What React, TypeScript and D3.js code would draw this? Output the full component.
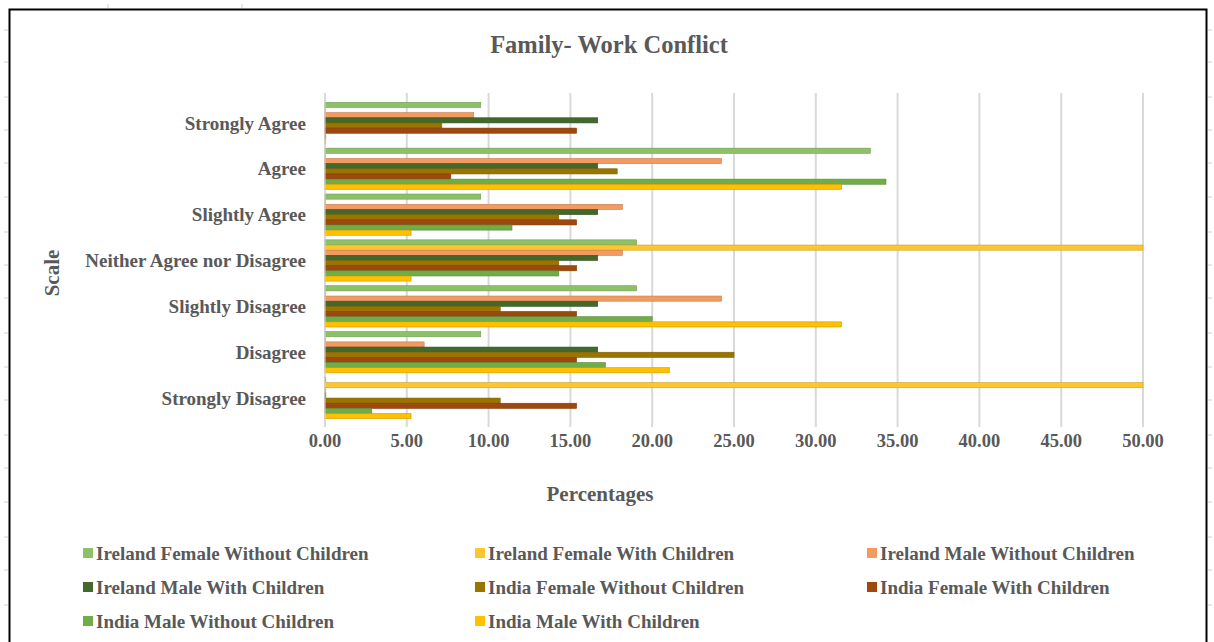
import React from "react";
import * as d3 from "d3";

// Response scale, top to bottom
const categories = [
  "Strongly Agree",
  "Agree",
  "Slightly Agree",
  "Neither Agree nor Disagree",
  "Slightly Disagree",
  "Disagree",
  "Strongly Disagree",
];

const seriesNames = [
  "Ireland Female Without Children",
  "Ireland Female With Children",
  "Ireland Male Without Children",
  "Ireland Male With Children",
  "India Female Without Children",
  "India Female With Children",
  "India Male Without Children",
  "India Male With Children",
];

const seriesColors = [
  "#8cc168",
  "#fdc62f",
  "#f29a60",
  "#43682b",
  "#9b7400",
  "#9e480e",
  "#70ad47",
  "#ffc000",
];

// Percentages per series, in category order
const irelandFemaleWithout = [9.52, 33.33, 9.52, 19.05, 19.05, 9.52, 0];
const irelandFemaleWith = [0, 0, 0, 50.0, 0, 0, 50.0];
const irelandMaleWithout = [9.09, 24.24, 18.18, 18.18, 24.24, 6.06, 0];
const irelandMaleWith = [16.67, 16.67, 16.67, 16.67, 16.67, 16.67, 0];
const indiaFemaleWithout = [7.14, 17.86, 14.29, 14.29, 10.71, 25.0, 10.71];
const indiaFemaleWith = [15.38, 7.69, 15.38, 15.38, 15.38, 15.38, 15.38];
const indiaMaleWithout = [0, 34.29, 11.43, 14.29, 20.0, 17.14, 2.86];
const indiaMaleWith = [0, 31.58, 5.26, 5.26, 31.58, 21.05, 5.26];

const seriesValues = [
  irelandFemaleWithout,
  irelandFemaleWith,
  irelandMaleWithout,
  irelandMaleWith,
  indiaFemaleWithout,
  indiaFemaleWith,
  indiaMaleWithout,
  indiaMaleWith,
];

const xTicks = [0, 5, 10, 15, 20, 25, 30, 35, 40, 45, 50];

const W = 1214;
const H = 642;
const FONT = "'Liberation Serif', 'Times New Roman', serif";
const TEXT = "#595959";

export default function App() {
  const plotLeft = 325;
  const plotRight = 1143;
  const plotTop = 100;
  const plotBottom = 421;

  const x = d3.scaleLinear().domain([0, 50]).range([plotLeft, plotRight]);
  const y = d3
    .scaleBand<string>()
    .domain(categories)
    .range([plotTop, plotBottom])
    .paddingInner(0.1)
    .paddingOuter(0.05);
  const inner = d3
    .scaleBand<number>()
    .domain(d3.range(seriesNames.length))
    .range([0, y.bandwidth()]);

  const legendCols = [83, 475, 867];
  const legendRows = [553, 587, 621];
  const cellMarks = [30, 62, 97, 130, 163, 197, 232, 265, 298, 333, 367, 400, 435, 468, 502, 537, 570, 605];

  return (
    <svg
      width={W}
      height={H}
      style={{ position: "absolute", left: 0, top: 0, background: "#fff" }}
      fontFamily={FONT}
    >
      <rect x={0} y={0} width={W} height={H} fill="#fff" />
      {/* faint sheet cell marks outside the chart frame */}
      {cellMarks.map((v) => (
        <line key={"lm" + v} x1={4} x2={8} y1={v} y2={v} stroke="#d0d0d0" strokeWidth={1} />
      ))}
      {cellMarks.map((v) => (
        <line key={"rm" + v} x1={1208} x2={1212} y1={v} y2={v} stroke="#d0d0d0" strokeWidth={1} />
      ))}
      {[108, 242].map((v) => (
        <line key={"tm" + v} x1={v} x2={v} y1={4} y2={8} stroke="#d0d0d0" strokeWidth={1} />
      ))}
      {/* chart frame */}
      <rect x={9.5} y={9.5} width={1197} height={H + 10} fill="#fff" stroke="#000" strokeWidth={2} />

      <text x={609} y={53} textAnchor="middle" fontSize={24.5} fontWeight="bold" fill={TEXT}>
        Family- Work Conflict
      </text>

      {/* vertical gridlines */}
      {xTicks.map((t) => (
        <line
          key={"g" + t}
          x1={x(t)}
          x2={x(t)}
          y1={93}
          y2={427}
          stroke="#d9d9d9"
          strokeWidth={2}
        />
      ))}

      {/* bars */}
      {seriesValues.map((vals, si) =>
        vals.map((v, ci) => {
          const yy = (y(categories[ci]) ?? 0) + (inner(si) ?? 0);
          const w = x(v) - x(0);
          return (
            <rect
              key={`b${si}-${ci}`}
              x={x(0)}
              y={yy}
              width={Math.max(w, 0.8)}
              height={inner.bandwidth()}
              fill={seriesColors[si]}
              stroke={d3.color(seriesColors[si])!.darker(0.6).formatHex()}
              strokeWidth={0.6}
            />
          );
        })
      )}

      {/* category axis line */}
      <line x1={x(0)} x2={x(0)} y1={plotTop} y2={plotBottom} stroke="#d9d9d9" strokeWidth={1} />

      {/* category labels */}
      {categories.map((c) => (
        <text
          key={c}
          x={306}
          y={(y(c) ?? 0) + y.bandwidth() / 2}
          dy="0.35em"
          textAnchor="end"
          fontSize={19}
          fontWeight="bold"
          fill={TEXT}
        >
          {c}
        </text>
      ))}

      {/* x tick labels */}
      {xTicks.map((t) => (
        <text
          key={"t" + t}
          x={x(t)}
          y={447}
          textAnchor="middle"
          fontSize={18.5}
          fontWeight="bold"
          fill={TEXT}
        >
          {t.toFixed(2)}
        </text>
      ))}

      <text x={600} y={501} textAnchor="middle" fontSize={21} fontWeight="bold" fill={TEXT}>
        Percentages
      </text>

      <text
        transform="translate(59,273) rotate(-90)"
        textAnchor="middle"
        fontSize={21}
        fontWeight="bold"
        fill={TEXT}
      >
        Scale
      </text>

      {/* legend */}
      {seriesNames.map((name, i) => {
        const col = i % 3;
        const row = Math.floor(i / 3);
        const lx = legendCols[col];
        const ly = legendRows[row];
        return (
          <g key={name}>
            <rect x={lx} y={ly - 5} width={10} height={10} fill={seriesColors[i]} />
            <text x={lx + 13} y={ly} dy="0.35em" fontSize={19} fontWeight="bold" fill={TEXT}>
              {name}
            </text>
          </g>
        );
      })}
    </svg>
  );
}
